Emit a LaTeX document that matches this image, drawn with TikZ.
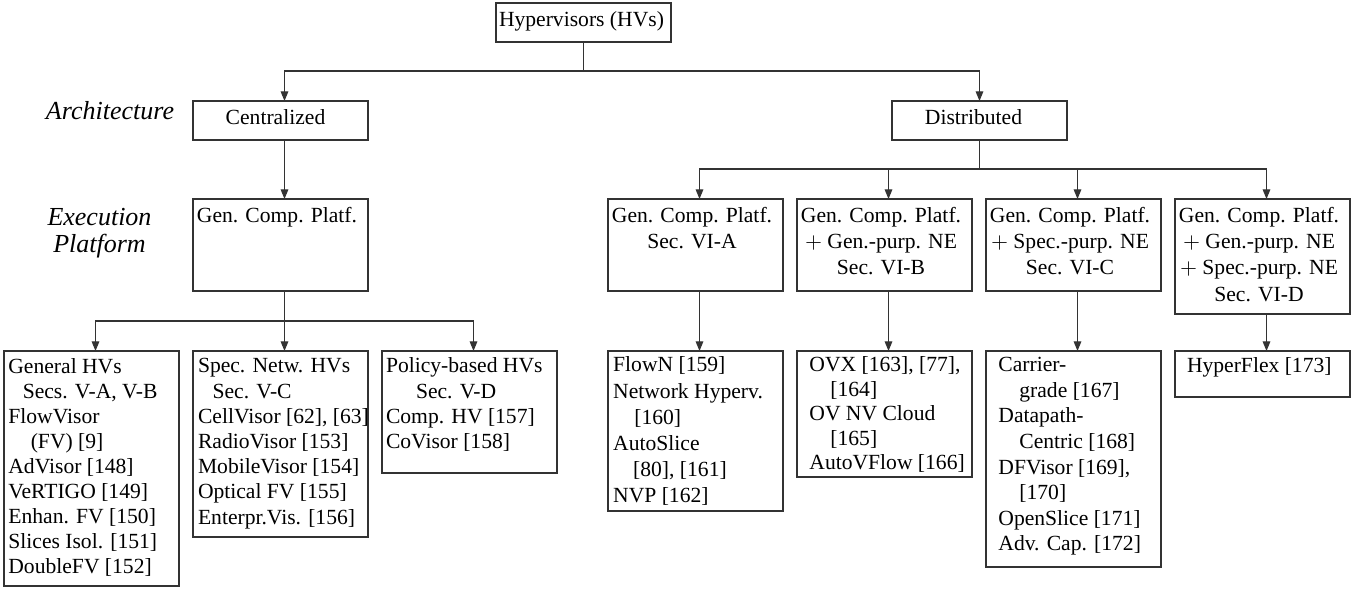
\documentclass[tikz,border=0pt]{standalone}
\usepackage{fontspec}
\setmainfont{Liberation Serif}
\usetikzlibrary{arrows.meta}
% level-2 box content: height, lines (centred, slightly left of box centre)
\newcommand{\topbox}[2]{\parbox[c][#1][t]{84pt}{\centering\fontsize{10.8pt}{13.1pt}\selectfont\rule{0pt}{11.7pt}#2}\kern3.5pt}
% leaf box content: height, left pad, baseline pitch, first baseline, rows
\newcommand{\leafbox}[5]{\parbox[c][#1][t]{87.5pt}{\fontsize{10.8pt}{#3}\selectfont\hspace*{#2}\begin{tabular}[t]{@{}l@{}}\rule{0pt}{#4}#5\end{tabular}}}
\colorlet{lncol}{black!80}
\tikzset{
  bx/.style={draw=lncol, line width=0.55pt, inner sep=0pt, outer sep=0pt, anchor=north west},
  hdr/.style={bx, minimum width=87.5pt, minimum height=19.5pt, text height=7.5pt, text depth=3.5pt, font=\fontsize{10.8pt}{13pt}\selectfont},
  ln/.style={draw=lncol, line width=0.55pt},
  arr/.style={ln, -{Triangle[length=4.8pt,width=3.8pt]}},
  lab/.style={inner sep=0pt, outer sep=0pt, font=\fontsize{13pt}{15pt}\selectfont\itshape},
}
\begin{document}
\begin{tikzpicture}[x=0.5pt,y=-0.5pt]
\useasboundingbox (0,0) rectangle (1361,589);

% side labels
\node[lab, anchor=base west] (arch) at (46,119) {Architecture};
\node[lab, anchor=base] (exe1) at (99.5,225) {Execution};
\node[lab, anchor=base] (exe2) at (99.5,252) {Platform};

% root and architecture level
\node[hdr] (hv) at (496,3) {Hypervisors (HVs)\kern2pt};
\node[hdr] (cen) at (193,101) {Centralized\kern5pt};
\node[hdr] (dis) at (892,101) {Distributed\kern6pt};

% execution platform level
\node[bx] (gc) at (193,199) {\topbox{46pt}{Gen. Comp. Platf.}};
\node[bx] (va) at (608,199) {\topbox{46pt}{Gen. Comp. Platf.\\Sec. VI-A}};
\node[bx] (vb) at (797,199) {\topbox{46pt}{Gen. Comp. Platf.\\$+$ Gen.-purp. NE\\Sec. VI-B}};
\node[bx] (vc) at (986,199) {\topbox{46pt}{Gen. Comp. Platf.\\$+$ Spec.-purp. NE\\Sec. VI-C}};
\node[bx] (vd) at (1175,199) {\topbox{57.5pt}{Gen. Comp. Platf.\\$+$ Gen.-purp. NE\\$+$ Spec.-purp. NE\\Sec. VI-D}};

% leaves
\node[bx] (l1) at (4,351) {\leafbox{117.5pt}{2.2pt}{12.5pt}{11.1pt}{General HVs\\\hspace*{7.2pt}Secs. V-A, V-B\\FlowVisor\\\hspace*{11.2pt}(FV) [9]\\AdVisor [148]\\VeRTIGO [149]\\Enhan. FV [150]\\Slices Isol. [151]\\DoubleFV [152]}};
\node[bx] (l2) at (193,351) {\leafbox{93pt}{2.5pt}{12.6pt}{10.9pt}{Spec. Netw. HVs\\\hspace*{7.3pt}Sec. V-C\\CellVisor [62], [63]\\RadioVisor [153]\\MobileVisor [154]\\Optical FV [155]\\Enterpr.Vis. [156]}};
\node[bx] (l3) at (382,351) {\leafbox{61pt}{2pt}{12.6pt}{10.9pt}{Policy-based HVs\\\hspace*{15pt}Sec. V-D\\Comp. HV [157]\\CoVisor [158]}};
\node[bx] (la) at (608,351) {\leafbox{80pt}{2.6pt}{13.1pt}{10.4pt}{FlowN [159]\\Network Hyperv.\\\hspace*{10.6pt}[160]\\AutoSlice\\\hspace*{10pt}[80], [161]\\NVP [162]}};
\node[bx] (lb) at (797,351) {\leafbox{63pt}{6.2pt}{12.2pt}{10.4pt}{OVX [163], [77],\\\hspace*{10.5pt}[164]\\OV NV Cloud\\\hspace*{10.5pt}[165]\\AutoVFlow [166]}};
\node[bx] (lc) at (986,351) {\leafbox{108pt}{6.2pt}{12.8pt}{10.3pt}{Carrier-\\\hspace*{10.5pt}grade [167]\\Datapath-\\\hspace*{10.5pt}Centric [168]\\DFVisor [169],\\\hspace*{10.5pt}[170]\\OpenSlice [171]\\Adv. Cap. [172]}};
\node[bx] (ld) at (1175,351) {\leafbox{23pt}{6pt}{12.5pt}{10.9pt}{HyperFlex [173]}};

% connectors
\coordinate (j0) at (583.5,71);
\draw[ln] (hv.south) -- (j0);
\draw[arr] (j0) -| ([xshift=2pt]cen.north);
\draw[arr] (j0) -| (dis.north);

\draw[arr] ([xshift=2pt]cen.south) -- ([xshift=2pt]gc.north);

\coordinate (j1) at (979.5,169);
\draw[ln] (dis.south) -- (j1);
\draw[arr] (j1) -| ([xshift=2pt]va.north);
\draw[arr] (j1) -| ([xshift=2pt]vb.north);
\draw[arr] (j1) -| ([xshift=2pt]vc.north);
\draw[arr] (j1) -| ([xshift=2pt]vd.north);

\coordinate (j2) at (284.5,321);
\draw[ln] ([xshift=2pt]gc.south) -- (j2);
\draw[arr] (j2) -| ([xshift=2pt]l1.north);
\draw[arr] (j2) -- ([xshift=2pt]l2.north);
\draw[arr] (j2) -| ([xshift=2pt]l3.north);

\draw[arr] ([xshift=2pt]va.south) -- ([xshift=2pt]la.north);
\draw[arr] ([xshift=2pt]vb.south) -- ([xshift=2pt]lb.north);
\draw[arr] ([xshift=2pt]vc.south) -- ([xshift=2pt]lc.north);
\draw[arr] ([xshift=2pt]vd.south) -- ([xshift=2pt]ld.north);
\end{tikzpicture}
\end{document}
